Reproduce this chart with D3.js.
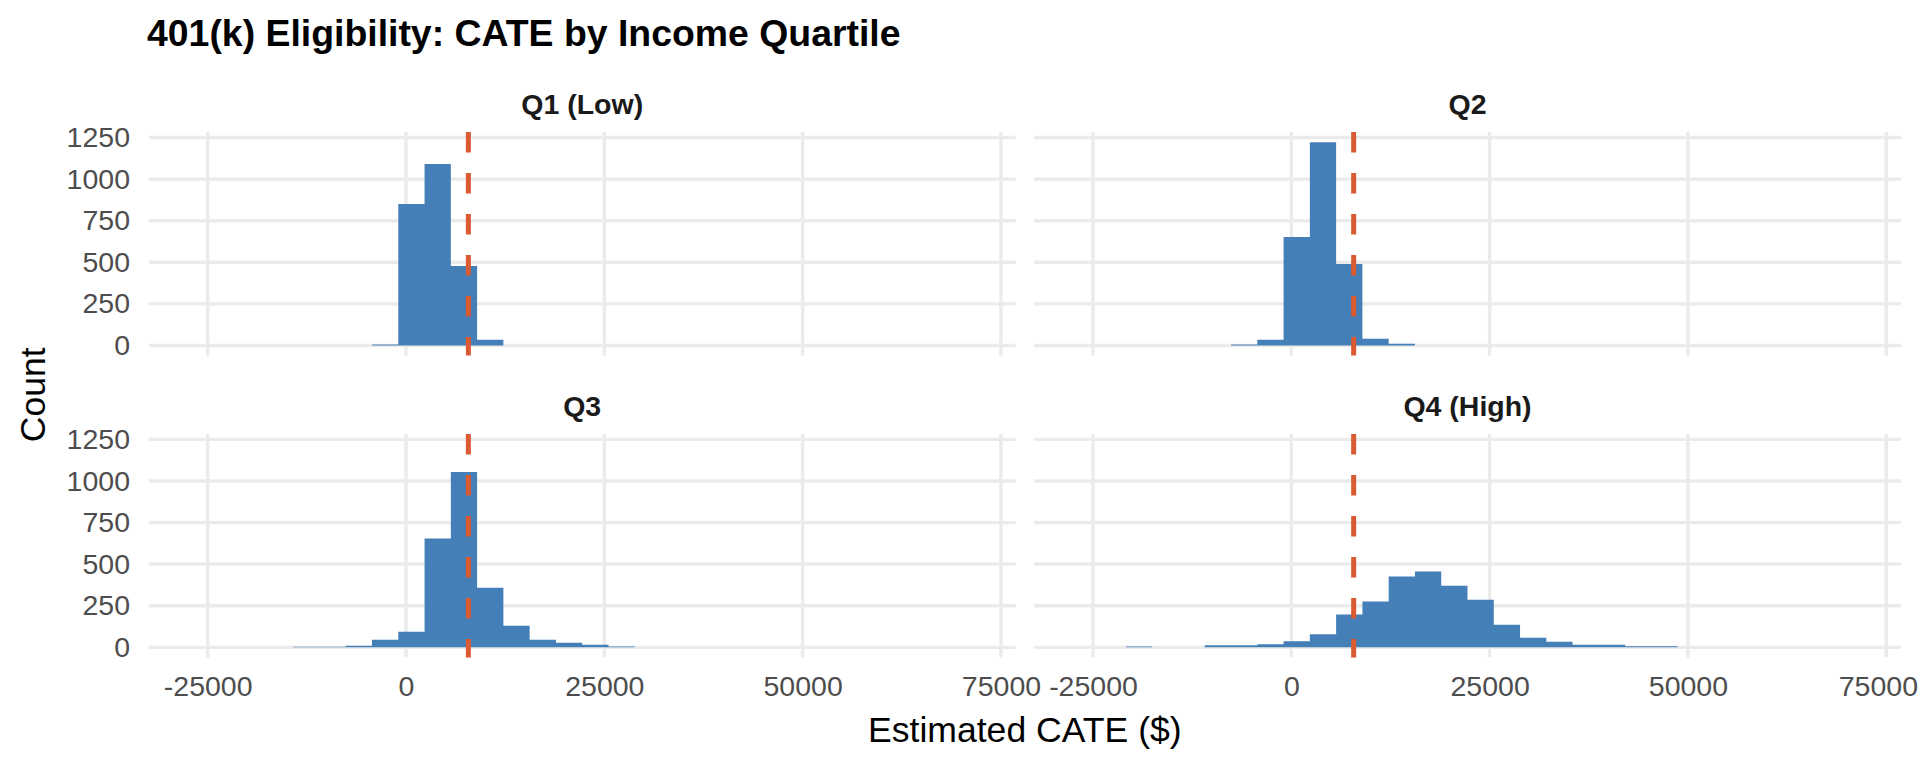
<!DOCTYPE html>
<html>
<head>
<meta charset="utf-8">
<script src="https://cdn.jsdelivr.net/npm/d3@7"></script>
<style>
  body { margin: 0; background: #fff; }
  text { font-family: "Liberation Sans", Arial, Helvetica, sans-serif; }
</style>
</head>
<body>
<div class="canva"></div>
<script>
// histogram bins, shared by all four facets (30 bins)
const binStart = -27470;
const binWidth = 3312;
const nBins = 30;

const quartiles = ['Q1 (Low)', 'Q2', 'Q3', 'Q4 (High)'];

// counts per bin
const countsQ1 = [0,0,0,0,0,0,0,5,850,1090,478,34,0,0,0,0,0,0,0,0,0,0,0,0,0,0,0,0,0,0];
const countsQ2 = [0,0,0,0,0,0,6,34,652,1222,490,40,10,0,0,0,0,0,0,0,0,0,0,0,0,0,0,0,0,0];
const countsQ3 = [0,0,0,0,4,4,10,46,94,654,1054,358,130,46,28,16,5,0,0,0,0,0,0,0,0,0,0,0,0,0];
const countsQ4 = [0,0,5,0,0,12,12,18,36,78,198,276,426,456,370,286,136,58,34,16,16,6,6,0,0,0,0,0,0,0];

const ate = 7860; // overall ATE (dashed line)

const xTicks = [-25000, 0, 25000, 50000, 75000];
const yTicks = [0, 250, 500, 750, 1000, 1250];

var width = 1920;
var height = 768;

const plotLeft = 148.7, plotRight = 1901, plotTop = 132, plotBottom = 657.5;
const colGap = 18.3, rowGap = 78.3;
const panelW = (plotRight - plotLeft - colGap) / 2;
const panelH = (plotBottom - plotTop - rowGap) / 2;

const allCounts = [countsQ1, countsQ2, countsQ3, countsQ4];
const facets = quartiles.map((q, i) => ({
  name: q,
  counts: allCounts[i],
  row: Math.floor(i / 2),
  col: i % 2
}));

// scales with ggplot style 5% expansion
const xLo = binStart, xHi = binStart + nBins * binWidth;
const xPad = (xHi - xLo) * 0.05;
const x = d3.scaleLinear().domain([xLo - xPad, xHi + xPad]).range([0, panelW]);

const yMax = d3.max(allCounts, c => d3.max(c));
const y = d3.scaleLinear().domain([-yMax * 0.05, yMax * 1.05]).range([panelH, 0]);

const svg = d3.select('.canva').append('svg')
  .attr('width', width)
  .attr('height', height)
  .style('background', '#fff');

svg.append('text')
  .attr('x', 147)
  .attr('y', 46)
  .attr('font-size', 37.4)
  .attr('font-weight', 'bold')
  .attr('fill', '#000')
  .text('401(k) Eligibility: CATE by Income Quartile');

const panels = svg.selectAll('g.panel')
  .data(facets)
  .enter().append('g')
  .attr('class', 'panel')
  .attr('transform', d => `translate(${plotLeft + d.col * (panelW + colGap)},${plotTop + d.row * (panelH + rowGap)})`);

// grid
panels.selectAll('line.vgrid')
  .data(xTicks)
  .enter().append('line')
  .attr('x1', d => x(d)).attr('x2', d => x(d))
  .attr('y1', 0).attr('y2', panelH)
  .attr('stroke', '#EBEBEB')
  .attr('stroke-width', 3.4);

panels.selectAll('line.hgrid')
  .data(yTicks)
  .enter().append('line')
  .attr('x1', 0).attr('x2', panelW)
  .attr('y1', d => y(d)).attr('y2', d => y(d))
  .attr('stroke', '#EBEBEB')
  .attr('stroke-width', 3.4);

// bars: one stepped area per facet so neighbouring bins join without seams
const bars = d3.area()
  .curve(d3.curveStepAfter)
  .x(b => x(b.x0))
  .y0(y(0))
  .y1(b => y(b.n));

panels.append('path')
  .attr('d', d => {
    const bins = d.counts.map((c, i) => ({ x0: binStart + i * binWidth, n: c }));
    bins.push({ x0: binStart + nBins * binWidth, n: d.counts[nBins - 1] });
    return bars(bins);
  })
  .attr('fill', '#457FB7');

// ATE line
panels.append('line')
  .attr('x1', x(ate)).attr('x2', x(ate))
  .attr('y1', 0).attr('y2', panelH)
  .attr('stroke', '#DA5A32')
  .attr('stroke-width', 5)
  .attr('stroke-dasharray', '20.5,20.5');

// strip labels
panels.append('text')
  .attr('x', panelW / 2)
  .attr('y', -18)
  .attr('text-anchor', 'middle')
  .attr('font-size', 28.5)
  .attr('font-weight', 'bold')
  .attr('fill', '#1A1A1A')
  .text(d => d.name);

// axes: y on left column, x on bottom row
panels.filter(d => d.col === 0).append('g')
  .attr('class', 'yaxis')
  .call(d3.axisLeft(y).tickValues(yTicks).tickSize(0).tickPadding(18.7).tickFormat(d => String(d)));

panels.filter(d => d.row === 1).append('g')
  .attr('class', 'xaxis')
  .attr('transform', `translate(0,${panelH})`)
  .call(d3.axisBottom(x).tickValues(xTicks).tickSize(0).tickPadding(18.5).tickFormat(d => String(d)));

svg.selectAll('.yaxis path, .xaxis path').remove();
svg.selectAll('.yaxis text, .xaxis text')
  .attr('font-size', 28.5)
  .attr('fill', '#4D4D4D')
  .style('font-family', '"Liberation Sans", Arial, sans-serif');

// keep the last tick label inside the page
svg.selectAll('.xaxis text').each(function() {
  const b = this.getBoundingClientRect();
  if (b.right > width - 2) {
    d3.select(this).attr('dx', -(b.right - width + 2));
  }
});

// axis titles
svg.append('text')
  .attr('x', (plotLeft + plotRight) / 2)
  .attr('y', 742)
  .attr('text-anchor', 'middle')
  .attr('font-size', 35.6)
  .attr('fill', '#000')
  .text('Estimated CATE ($)');

svg.append('text')
  .attr('transform', `translate(45,${(plotTop + plotBottom) / 2}) rotate(-90)`)
  .attr('text-anchor', 'middle')
  .attr('font-size', 35.6)
  .attr('fill', '#000')
  .text('Count');
</script>
</body>
</html>
